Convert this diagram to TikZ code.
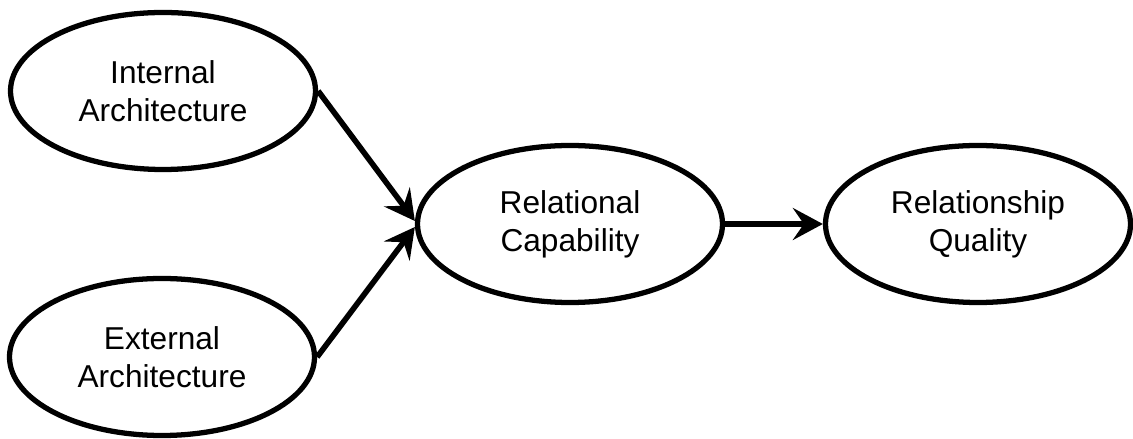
\documentclass[tikz,border=0pt]{standalone}
\usepackage{fontspec}
\setmainfont{Liberation Sans}
\usetikzlibrary{arrows.meta,shapes.geometric}

\begin{document}
\begin{tikzpicture}[
    font=\fontsize{18}{21.5}\selectfont,
    construct/.style={draw, ellipse, line width=3pt, align=center,
      minimum width=6.1cm, minimum height=3.14cm, inner sep=0pt},
    link/.style={line width=3.2pt,
      -{Stealth[length=6mm, width=6.4mm, inset=2.2mm]}}
  ]
    \useasboundingbox (0,0) rectangle (22.66,8.78);

    % Antecedents
    \node[construct] (int) at (3.26,6.96) {Internal\\Architecture};
    \node[construct] (ext) at (3.24,1.64) {External\\Architecture};

    % Mediator and outcome
    \node[construct] (rc) at (11.40,4.30) {Relational\\Capability};
    \node[construct] (rq) at (19.56,4.30) {Relationship\\Quality};

    \draw[link] (int.east) -- ([yshift=0.06cm]rc.west);
    \draw[link] (ext.east) -- ([yshift=-0.06cm]rc.west);
    \draw[link] (rc.east) -- (rq.west);
\end{tikzpicture}
\end{document}
